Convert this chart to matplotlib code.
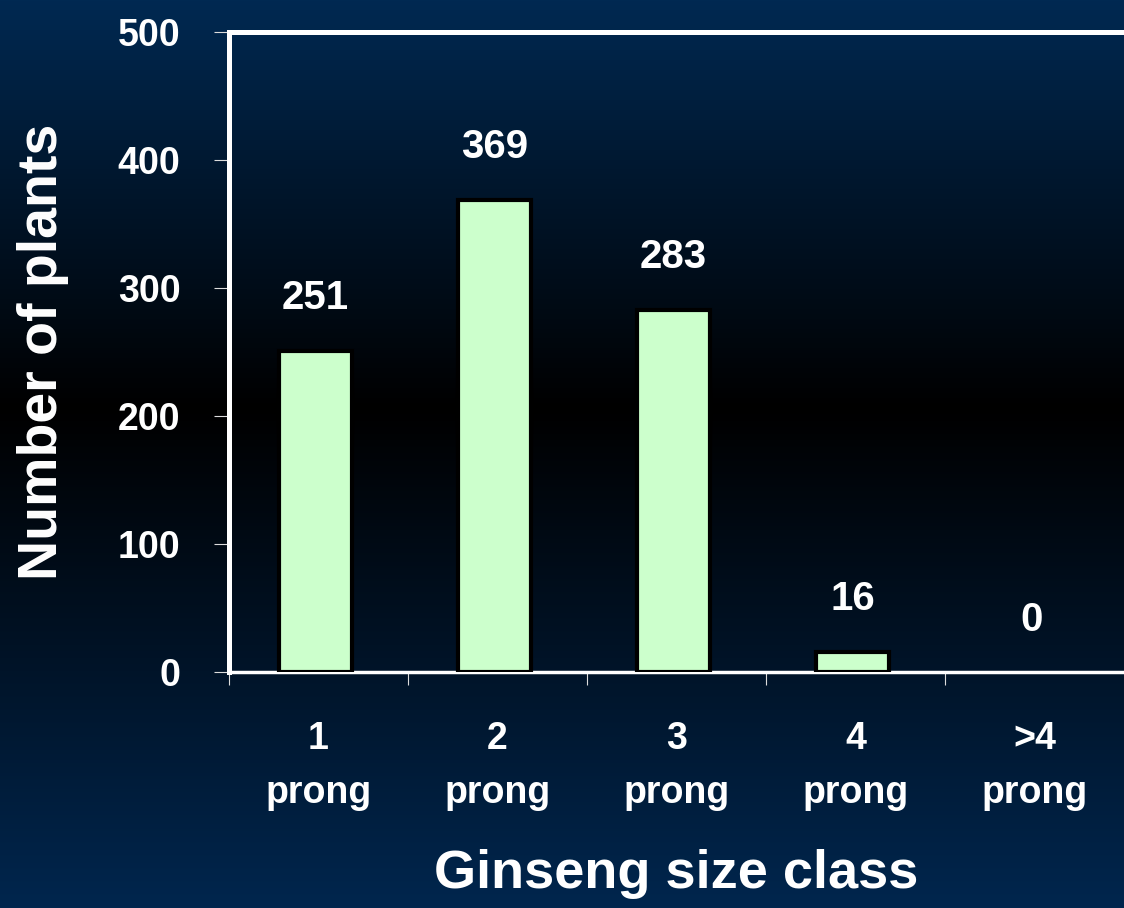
import matplotlib.pyplot as plt
import numpy as np

plt.rcParams['font.family'] = ['Liberation Sans', 'DejaVu Sans']
plt.rcParams['font.weight'] = 'bold'

# plant counts per size class
size_classes = ["1\nprong", "2\nprong", "3\nprong", "4\nprong", ">4\nprong"]
plant_counts = [251, 369, 283, 16, 0]
y_ticks = [0, 100, 200, 300, 400, 500]

fig = plt.figure(figsize=(11.24, 9.08), dpi=100)

# slide background: navy fading to black in the middle and back to navy
bg = fig.add_axes([0, 0, 1, 1], zorder=-10)
rows = np.linspace(0, 1, 908)
mid = 408 / 908
top_col = np.array([0, 41, 82]) / 255
bot_col = np.array([0, 38, 78]) / 255
grad = np.zeros((908, 1, 3))
for i, r in enumerate(rows):
    if r <= mid:
        t = 1 - r / mid
        grad[i, 0] = top_col * t
    else:
        t = (r - mid) / (1 - mid)
        grad[i, 0] = bot_col * t
bg.imshow(grad, aspect='auto', extent=[0, 1, 0, 1], origin='upper')
bg.axis('off')

ax = fig.add_axes([0.2037, 0.2599, 0.7963, 0.7049])
ax.patch.set_alpha(0)

x = np.arange(len(plant_counts))
# empty classes get no outline
edge_w = [3 if v > 0 else 0 for v in plant_counts]
ax.bar(x - 0.017, plant_counts, width=0.41, color='#ccffcc',
       edgecolor='black', linewidth=edge_w, zorder=3)

for xi, v in zip(x, plant_counts):
    ax.annotate(str(v), (xi - 0.017, v), xytext=(0, 24), textcoords='offset points',
                ha='center', va='bottom', color='white', fontsize=29, fontweight='bold')

ax.set_xlim(-0.5, 4.5)
ax.set_ylim(0, 500)

# category boundaries get the tick marks, labels sit at the centres
ax.set_xticks(np.arange(-0.5, 4.5, 1))
ax.set_xticklabels([])
ax.set_xticks(x, minor=True)
ax.set_xticklabels(size_classes, minor=True, fontsize=27, fontweight='bold',
                   color='white', linespacing=1.65)
ax.tick_params(axis='x', which='major', length=9, width=0.8, color='#dddddd',
               direction='out')
ax.tick_params(axis='x', which='minor', length=0, pad=35)

ax.set_yticks(y_ticks)
ax.set_yticklabels([str(t) for t in y_ticks], fontsize=27, fontweight='bold', color='white')
ax.tick_params(axis='y', length=11, width=0.8, color='#dddddd', pad=24)

for side in ['top', 'left']:
    ax.spines[side].set_color('white')
    ax.spines[side].set_linewidth(3.6)
ax.spines['bottom'].set_color('white')
ax.spines['bottom'].set_linewidth(2.5)
ax.spines['right'].set_visible(False)

ax.set_ylabel("Number of plants", fontsize=40, fontweight='bold', color='white',
              labelpad=35)
fig.text(0.6015, 0.0225, "Ginseng size class", ha='center', va='baseline',
         fontsize=39, fontweight='bold', color='white')

fig.savefig("out.png", dpi=100)
